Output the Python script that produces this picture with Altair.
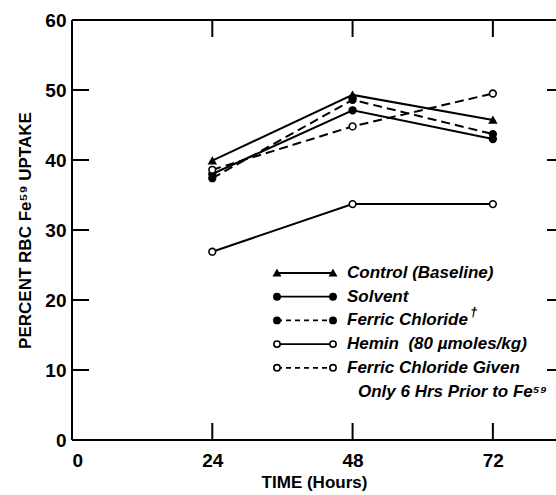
import altair as alt
import pandas as pd

# Time points (hours) and percent RBC Fe59 uptake for each treatment
hours = [24, 48, 72]
control = [39.9, 49.3, 45.7]
solvent = [38.0, 47.1, 43.0]
ferric = [37.4, 48.6, 43.7]
hemin = [26.9, 33.7, 33.7]
ferric_6h = [38.6, 44.8, 49.5]

series_keys = ["control", "solvent", "ferric", "hemin", "ferric_6h"]
series_values = [control, solvent, ferric, hemin, ferric_6h]
legend_labels = [
    "Control (Baseline)",
    "Solvent",
    "Ferric Chloride",
    "Hemin\u00a0\u00a0(80 \u00b5moles/kg)",
    "Ferric Chloride Given",
]
legend_extra = "Only 6 Hrs Prior to Fe\u2075\u2079"
shapes = ["triangle-up", "circle", "circle", "circle", "circle"]
fills = ["black", "black", "black", "white", "white"]
dashed = [False, False, True, False, True]

x_ticks = [24, 48, 72]
x_labels = [0, 24, 48, 72]
y_ticks = [10, 20, 30, 40, 50]
y_labels = [0, 10, 20, 30, 40, 50, 60]

FONT = "Liberation Sans"
W, H = 484, 420
X_MAX = 82.8

rows = []
for key, vals, dsh in zip(series_keys, series_values, dashed):
    for h, v in zip(hours, vals):
        rows.append({"series": key, "hours": h, "uptake": v, "dashed": dsh})
df = pd.DataFrame(rows)

x_scale = alt.Scale(domain=[0, X_MAX], nice=False, zero=True)
y_scale = alt.Scale(domain=[0, 60], nice=False, zero=True)
shape_scale = alt.Scale(domain=series_keys, range=shapes)
fill_scale = alt.Scale(domain=series_keys, range=fills)

x_enc = alt.X(
    "hours:Q", scale=x_scale,
    axis=alt.Axis(values=x_labels, title="TIME (Hours)", labelPadding=11,
                  titlePadding=4, format="d"),
)
y_enc = alt.Y(
    "uptake:Q", scale=y_scale,
    axis=alt.Axis(values=y_labels, title="PERCENT RBC Fe\u2075\u2079 UPTAKE",
                  labelPadding=6, titlePadding=10, format="d"),
)

base = alt.Chart(df)
solid_lines = base.transform_filter("!datum.dashed").mark_line(
    color="black", strokeWidth=2
).encode(x=x_enc, y=y_enc, detail="series:N")
dashed_lines = base.transform_filter("datum.dashed").mark_line(
    color="black", strokeWidth=2, strokeDash=[9, 5]
).encode(x="hours:Q", y="uptake:Q", detail="series:N")
points = base.mark_point(
    stroke="black", strokeWidth=1.6, opacity=1, size=45
).encode(
    x="hours:Q", y="uptake:Q",
    shape=alt.Shape("series:N", scale=shape_scale, legend=None),
    fill=alt.Fill("series:N", scale=fill_scale, legend=None),
)

# Frame: left, top and bottom borders
frame = alt.Chart(pd.DataFrame({"k": [0]})).mark_rule(color="black", strokeWidth=2)
left_border = frame.encode(x=alt.value(0), y=alt.value(0), y2=alt.value(H))
top_border = frame.encode(x=alt.value(0), x2=alt.value(W), y=alt.value(0))
bottom_border = frame.encode(x=alt.value(0), x2=alt.value(W), y=alt.value(H))

# Inward tick marks
ytick_df = pd.DataFrame({"uptake": y_ticks})
xtick_df = pd.DataFrame({"hours": x_ticks})
tick = dict(color="black", strokeWidth=2)
left_ticks = alt.Chart(ytick_df).mark_rule(**tick).encode(
    y="uptake:Q", x=alt.value(0), x2=alt.value(17))
right_ticks = alt.Chart(ytick_df).mark_rule(**tick).encode(
    y="uptake:Q", x=alt.value(W - 9), x2=alt.value(W))
top_ticks = alt.Chart(xtick_df).mark_rule(**tick).encode(
    x="hours:Q", y=alt.value(0), y2=alt.value(17))
bottom_ticks = alt.Chart(xtick_df).mark_rule(**tick).encode(
    x="hours:Q", y=alt.value(H - 17), y2=alt.value(H))

# Legend drawn inside the plot
LEG_X0, LEG_X1, LEG_TX = 205, 261, 275
LEG_Y0, LEG_DY = 253, 23.7
leg_rows = []
for i, (key, dsh) in enumerate(zip(series_keys, dashed)):
    for px in (LEG_X0, LEG_X1):
        leg_rows.append({"series": key, "px": px, "py": LEG_Y0 + i * LEG_DY, "dashed": dsh})
leg_df = pd.DataFrame(leg_rows)
lx = alt.X("px:Q", scale=None, axis=None)
ly = alt.Y("py:Q", scale=None, axis=None)
leg_solid = alt.Chart(leg_df).transform_filter("!datum.dashed").mark_line(
    color="black", strokeWidth=1.8).encode(x=lx, y=ly, detail="series:N")
leg_dashed = alt.Chart(leg_df).transform_filter("datum.dashed").mark_line(
    color="black", strokeWidth=1.8, strokeDash=[5, 4]).encode(x=lx, y=ly, detail="series:N")
leg_points = alt.Chart(leg_df).mark_point(
    stroke="black", strokeWidth=1.6, opacity=1, size=40
).encode(
    x=lx, y=ly,
    shape=alt.Shape("series:N", scale=shape_scale, legend=None),
    fill=alt.Fill("series:N", scale=fill_scale, legend=None),
)

text_df = pd.DataFrame({
    "label": legend_labels + [legend_extra],
    "px": [LEG_TX] * 5 + [LEG_TX + 11],
    "py": [LEG_Y0 + i * LEG_DY for i in range(6)],
})
leg_text = alt.Chart(text_df).mark_text(
    align="left", baseline="middle", font=FONT, fontSize=17,
    fontWeight="bold", fontStyle="italic", color="black",
).encode(x=lx, y=ly, text="label:N")

dagger_df = pd.DataFrame({"label": ["\u2020"], "px": [LEG_TX + 123], "py": [LEG_Y0 + 2 * LEG_DY - 8]})
dagger = alt.Chart(dagger_df).mark_text(
    align="left", baseline="middle", font=FONT, fontSize=13,
    fontWeight="bold", fontStyle="italic", color="black",
).encode(x=lx, y=ly, text="label:N")

chart = alt.layer(
    solid_lines, dashed_lines, points,
    left_border, top_border, bottom_border,
    left_ticks, right_ticks, top_ticks, bottom_ticks,
    leg_solid, leg_dashed, leg_points, leg_text, dagger,
).properties(
    width=W, height=H,
    autosize=alt.AutoSizeParams(type="none"),
    padding={"left": 72, "top": 20, "right": 0, "bottom": 55},
    background="white",
).configure_view(stroke=None).configure_axis(
    domain=False, ticks=False, tickSize=0, grid=False,
    labelFont=FONT, labelFontSize=19, labelFontWeight="bold", labelColor="black",
    titleFont=FONT, titleFontSize=17, titleFontWeight="bold", titleColor="black",
)

chart.save("out.html", embed_options={"renderer": "svg", "actions": False})
